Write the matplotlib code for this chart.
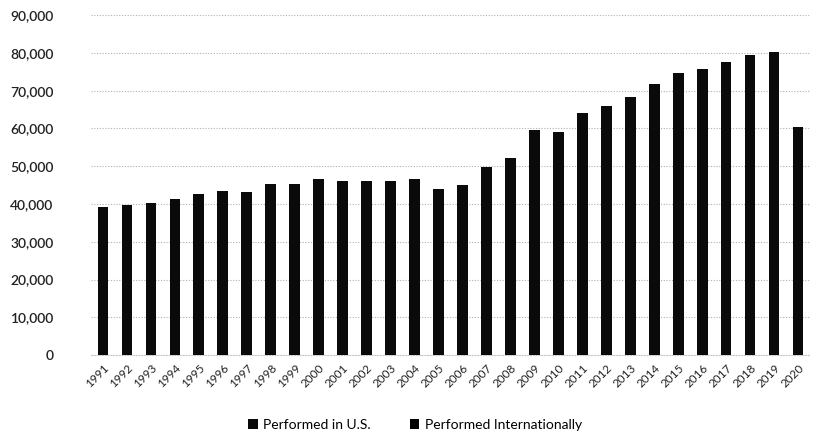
# Stacked bar chart: procedures per year, 1991-2020
import matplotlib.pyplot as plt
import numpy as np

plt.rcParams['font.family'] = ['Lato', 'DejaVu Sans']

years = [str(y) for y in range(1991, 2021)]

# Totals (both series are printed black, so the
# split between them is not readable; everything sits in the U.S. series)
performed_us = [39200, 39700, 40300, 41200, 42600, 43500, 43200, 45200, 45400, 46500,
                46100, 46000, 46200, 46600, 44100, 44900, 49900, 52300, 59700, 59100,
                64100, 66000, 68200, 71900, 74800, 75800, 77600, 79400, 80300, 60300]
performed_intl = [0] * len(years)

fig = plt.figure(figsize=(8.17, 4.45), dpi=100)
ax = fig.add_axes([0.1114, 0.202, 0.880, 0.764])

x = np.arange(len(years))
ax.bar(x, performed_us, width=0.45, color='#0a0a0a', label='Performed in U.S.', zorder=3)
ax.bar(x, performed_intl, width=0.45, bottom=performed_us, color='#000000',
       label='Performed Internationally', zorder=3)

ax.set_ylim(0, 90000)
ax.set_xlim(-0.5, len(years) - 0.5)
ax.set_yticks(np.arange(0, 90001, 10000))
ax.set_yticklabels([f'{v:,}' for v in range(0, 90001, 10000)], fontsize=10,
                   color='#222222', fontweight='semibold')
ax.set_xticks(x)
ax.set_xticklabels(years, rotation=45, ha='right', rotation_mode='anchor',
                   fontsize=8.5, color='#222222')
ax.tick_params(axis='y', length=0, pad=27)
ax.tick_params(axis='x', length=0, pad=5)

ax.grid(axis='y', color='#b0b0b0', linewidth=0.8, linestyle=(0, (1, 1.5)), zorder=0)
for s in ['top', 'right', 'left']:
    ax.spines[s].set_visible(False)
ax.spines['bottom'].set_color('#c8c8c8')
ax.spines['bottom'].set_linestyle((0, (1, 1.5)))

fig.legend(loc='center', bbox_to_anchor=(0.508, 0.045), ncol=2, frameon=False,
           fontsize=10, handlelength=0.7, handleheight=0.7, columnspacing=2.8,
           handletextpad=0.4)

fig.savefig('out.png', dpi=100)
